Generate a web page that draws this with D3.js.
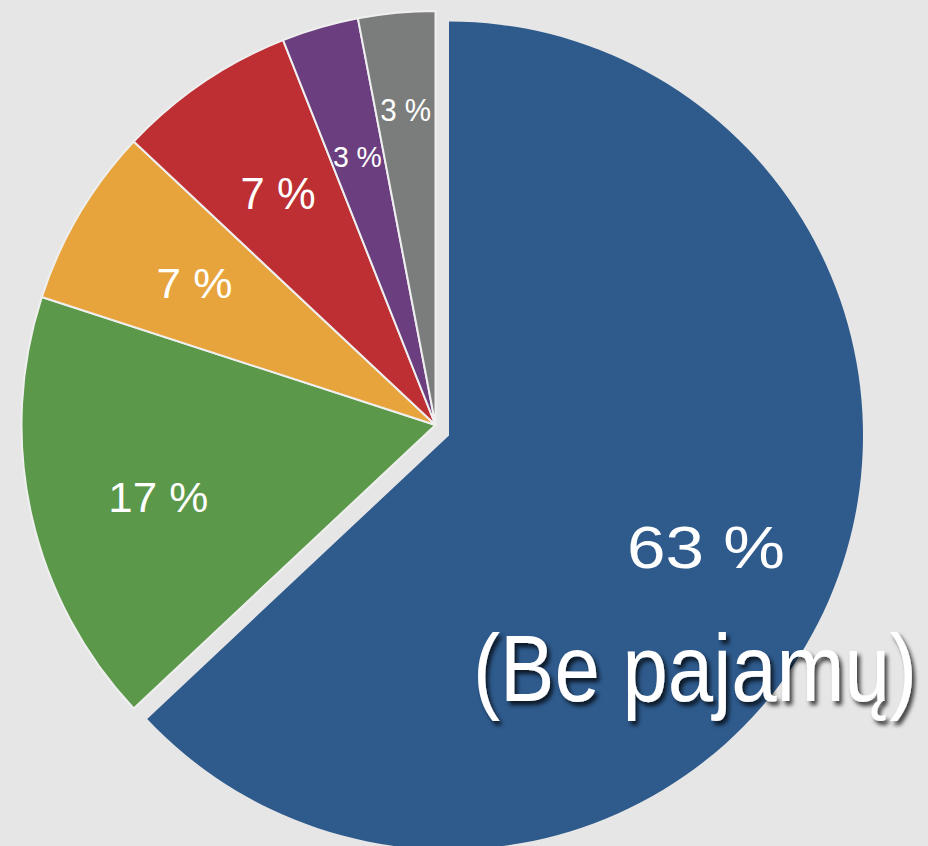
<!DOCTYPE html>
<html>
<head>
<meta charset="utf-8">
<script src="https://cdn.jsdelivr.net/npm/d3@7"></script>
<style>
  body { margin: 0; background: #e6e6e6; }
  svg { display: block; }
</style>
</head>
<body>
<svg width="928" height="846"></svg>
<script>
 // data
 var values = [63, 17, 7, 7, 3, 3];
 var labels = ["63 %", "17 %", "7 %", "7 %", "3 %", "3 %"];
 var colors = ["#2e5a8c", "#5b984a", "#e8a43c", "#bd2f33", "#6b3f7f", "#7b7d7c"];
 var subLabel = "(Be pajamų)";

 var svg = d3.select("svg");
 var width = +svg.attr("width");
 var height = +svg.attr("height");

 svg.append("rect").attr("width", width).attr("height", height).attr("fill", "#e6e6e6");

 // shadow for the big caption
 var defs = svg.append("defs");
 var f = defs.append("filter").attr("id", "shadow")
   .attr("x", "-10%").attr("y", "-10%").attr("width", "120%").attr("height", "130%");
 f.append("feDropShadow").attr("dx", 3).attr("dy", 4).attr("stdDeviation", 2)
   .attr("flood-color", "#000").attr("flood-opacity", 0.75);

 var R = 414;
 var cx = 435.5, cy = 425;
 // blue slice is pulled out
 var explode = [13.5, 10.5];

 var pie = d3.pie().sort(null).value(d => d);
 var arcs = pie(values);

 var arc = d3.arc().innerRadius(0).outerRadius(R);
 var labelArc = d3.arc().innerRadius(280).outerRadius(280);
 var outerLabelArc = d3.arc().innerRadius(317).outerRadius(317);

 // label sizes (font px, text width px)
 var fontSizes = [60, 43, 43, 44, 29, 31];
 var textWidths = [158, 100, 76, 75, 49, 51];

 var g = svg.append("g").attr("transform", "translate(" + cx + "," + cy + ")");

 var slices = g.selectAll("g.slice")
   .data(arcs)
   .enter()
   .append("g")
   .attr("class", "slice")
   .attr("transform", (d, i) => i === 0 ? "translate(" + explode[0] + "," + explode[1] + ")" : null);

 slices.append("path")
   .attr("d", arc)
   .attr("fill", (d, i) => colors[i])
   .attr("stroke", (d, i) => i === 0 ? "none" : "#efefef")
   .attr("stroke-width", 2)
   .attr("stroke-linejoin", "round");

 slices.append("text")
   .attr("transform", (d, i) => {
     var c = (i === values.length - 1 ? outerLabelArc : labelArc).centroid(d);
     // green label sits a bit lower than its bisector
     if (i === 1) c = [c[0] - 4, c[1] + 10];
     return "translate(" + c[0] + "," + c[1] + ")";
   })
   .attr("text-anchor", "middle")
   .attr("dy", "0.36em")
   .attr("font-family", "'Liberation Sans', Arial, sans-serif")
   .attr("font-size", (d, i) => fontSizes[i])
   .attr("textLength", (d, i) => textWidths[i])
   .attr("lengthAdjust", "spacingAndGlyphs")
   .attr("fill", "#fff")
   .text((d, i) => labels[i]);

 // caption under the big slice label
 var c0 = labelArc.centroid(arcs[0]);
 g.append("text")
   .attr("x", c0[0] + explode[0] - 11)
   .attr("y", c0[1] + explode[1] + 154)
   .attr("text-anchor", "middle")
   .attr("font-family", "'Liberation Sans', Arial, sans-serif")
   .attr("font-size", 94)
   .attr("textLength", 444)
   .attr("lengthAdjust", "spacingAndGlyphs")
   .attr("fill", "#fff")
   .attr("filter", "url(#shadow)")
   .text(subLabel);
</script>
</body>
</html>
